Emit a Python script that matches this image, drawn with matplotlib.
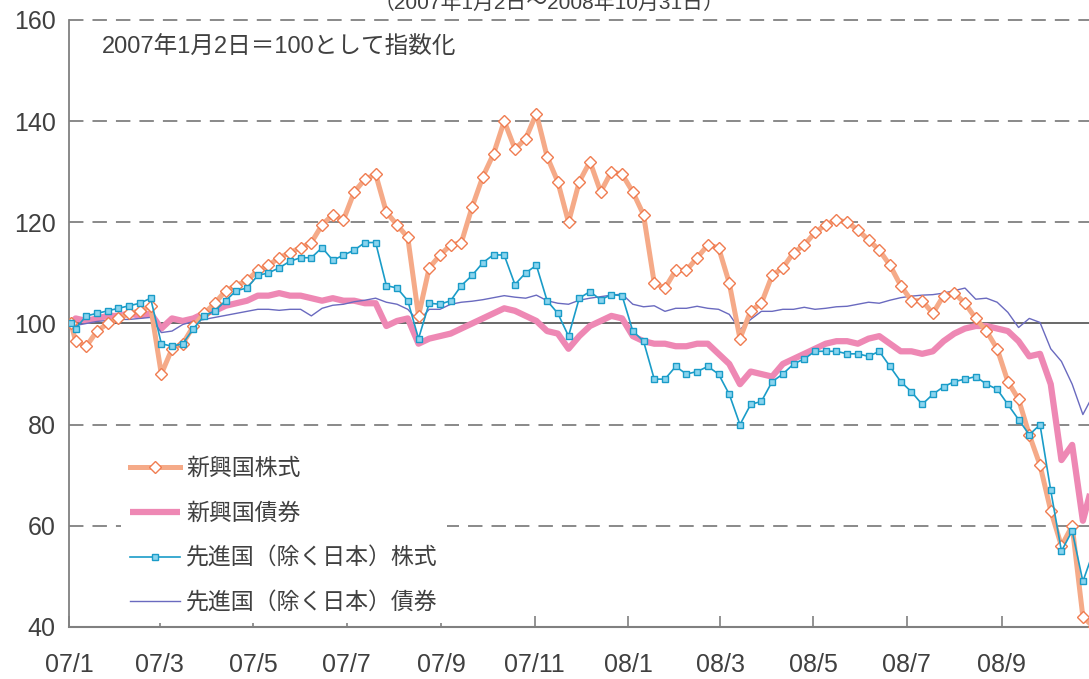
import numpy as np
import pandas as pd
import matplotlib
matplotlib.use('Agg')
import matplotlib.pyplot as plt
import matplotlib.dates as mdates

plt.rcParams['font.family'] = ['Liberation Sans', 'Noto Sans CJK JP']

# 2007/1/2 and then weekly (Fridays) up to 2008/10/31
dates = [pd.Timestamp('2007-01-02')] + list(pd.date_range('2007-01-05', periods=96, freq='7D'))

# 新興国株式
em_eq = [100,
         96.5, 95.5, 98.5, 100, 101, 102, 102.5, 103.4, 90, 95,
         96, 99.5, 102, 104, 106.5, 107.5, 108.5, 110.5, 111.5, 113,
         114, 115, 116, 119.5, 121.5, 120.5, 126, 128.5, 129.5, 122,
         119.5, 117, 101.5, 111, 113.5, 115.5, 116, 123, 129, 133.5,
         140, 134.5, 136.5, 141.5, 133, 128, 120, 128, 132, 126,
         130, 129.5, 126, 121.5, 108, 107, 110.5, 110.5, 113, 115.5,
         115, 108, 97, 102.5, 104, 109.5, 111, 114, 115.5, 118,
         119.5, 120.5, 120, 118.5, 116.5, 114.5, 111.5, 107.5, 104.5, 104.5,
         102, 105.5, 106, 104, 101, 98.5, 95, 88.5, 85, 78,
         72, 63, 56, 60, 42, 40]

# 新興国債券
em_bd = [100,
         101, 100.5, 101, 101.5, 101.5, 102, 101.5, 102, 99, 101,
         100.5, 101, 102, 102.5, 103.5, 104, 104.5, 105.5, 105.5, 106,
         105.5, 105.5, 105, 104.5, 105, 104.5, 104.5, 104, 104, 99.5,
         100.5, 101, 96, 97, 97.5, 98, 99, 100, 101, 102,
         103, 102.5, 101.5, 100.5, 98.5, 98, 95, 97.5, 99.5, 100.5,
         101.5, 101, 97.5, 96.5, 96, 96, 95.5, 95.5, 96, 96,
         94, 92, 88, 90.5, 90, 89.5, 92, 93, 94, 95,
         96, 96.5, 96.5, 96, 97, 97.5, 96, 94.5, 94.5, 94,
         94.5, 96.5, 98, 99, 99.5, 99.5, 99, 98.5, 96.5, 93.5,
         94, 88, 73, 76, 61, 69]

# 先進国（除く日本）株式
dm_eq = [100,
         99, 101.5, 102, 102.5, 103, 103.5, 104, 105, 96, 95.5,
         96, 99, 101.5, 102.5, 104.5, 106.5, 107, 109.5, 110, 111,
         112.3, 113, 113, 115, 112.5, 113.5, 114.5, 116, 116, 107.5,
         107, 104.5, 97, 104, 103.8, 104.5, 107.5, 109.5, 112, 113.6,
         113.5, 107.7, 110, 111.5, 104.5, 102, 97.5, 105, 106.3, 104.7,
         105.7, 105.5, 98.5, 96.5, 89, 89, 91.5, 90, 90.5, 91.5,
         90, 86, 80, 84, 84.6, 88.5, 90, 92, 93, 94.5,
         94.5, 94.5, 94, 94, 93.5, 94.5, 91.5, 88.5, 86.5, 84,
         86, 87.5, 88.5, 89, 89.5, 88, 87, 84, 81, 78,
         80, 67, 55, 59, 49, 55]

# 先進国（除く日本）債券
dm_bd = [100,
         99.6, 100, 100.4, 100.6, 100.8, 100.8, 101, 101.2, 98.2, 98.5,
         99.8, 100.4, 100.8, 101.2, 101.6, 102, 102.4, 102.8, 102.8, 102.6,
         102.8, 102.8, 101.5, 103, 103.6, 103.8, 104.3, 104.6, 105, 104.2,
         103.8, 102.8, 100.4, 102.8, 102.8, 103.8, 104.2, 104.4, 104.7, 105.1,
         105.5, 105.2, 105, 105.6, 104.5, 104, 103.8, 104.6, 105, 105.3,
         105.6, 105.8, 103.8, 103.3, 103.5, 102.4, 103, 103, 103.4, 103,
         102.8, 101.8, 98.8, 100.8, 102.4, 102.4, 102.8, 102.8, 103.2, 102.8,
         103, 103.3, 103.4, 103.8, 104.2, 104, 104.6, 105.1, 105.4, 105.6,
         105.7, 106, 106.5, 107, 104.8, 105, 104.2, 102.2, 99.2, 101,
         100.2, 95, 92.5, 88, 82, 86]

tick_dates = pd.date_range('2007-01-01', '2008-09-01', freq='2MS')
tick_labels = ['07/1', '07/3', '07/5', '07/7', '07/9', '07/11',
               '08/1', '08/3', '08/5', '08/7', '08/9']

fig = plt.figure(figsize=(10.89, 6.79), dpi=100)
ax = fig.add_axes([0.0638, 0.0766, 0.9362, 0.894])

txt = '#404040'

ax.plot(dates, em_bd, color='#EE88B4', lw=4.5, solid_capstyle='butt',
        label='新興国債券', zorder=3)
ax.plot(dates, dm_bd, color='#6A6ABF', lw=1.0, label='先進国（除く日本）債券', zorder=4)
ax.plot(dates, em_eq, color='#F5AA88', lw=3.6, marker='D', markersize=6.3,
        markerfacecolor='white', markeredgecolor='#F07C50', markeredgewidth=1.0,
        label='新興国株式', zorder=5)
ax.plot(dates, dm_eq, color='#1A9CC8', lw=1.2, marker='s', markersize=5,
        markerfacecolor='#8AD4EE', markeredgecolor='#1A9CC8', markeredgewidth=1.0,
        label='先進国（除く日本）株式', zorder=6)

ax.set_ylim(40, 160)
ax.set_yticks([40, 60, 80, 100, 120, 140, 160])
ax.set_xlim(pd.Timestamp('2007-01-01'), pd.Timestamp('2007-01-01') + pd.Timedelta(days=666))
ax.set_xticks(tick_dates)
ax.set_xticklabels(tick_labels)

for v in [60, 80, 120, 140, 160]:
    ax.axhline(v, color='#808080', lw=1.3, dashes=(8, 5), zorder=1, clip_on=False)
ax.axhline(100, color='#404040', lw=1.1, zorder=2)

for s in ['top', 'right']:
    ax.spines[s].set_visible(False)
ax.spines['left'].set_color('#808080')
ax.spines['bottom'].set_color('#808080')
ax.spines['left'].set_linewidth(1.3)
ax.spines['bottom'].set_linewidth(1.5)

ax.tick_params(axis='y', length=0, pad=10, labelsize=18, labelcolor=txt)
ax.tick_params(axis='x', direction='in', length=8, width=1.2, color='#808080',
               pad=19, labelsize=18, labelcolor=txt)

ax.text(0.032, 0.954, '2007年1月2日＝100として指数化', transform=ax.transAxes,
        fontsize=17, color=txt, va='center', ha='left')

fig.text(0.504, 1 - 9 / 679, '（2007年1月2日～2008年10月31日）', fontsize=15,
         color=txt, ha='center', va='baseline')

h, l = ax.get_legend_handles_labels()
order = [2, 0, 3, 1]
leg = ax.legend([h[i] for i in order], [l[i] for i in order],
                loc='upper left', bbox_to_anchor=(0.039, 0.314), fontsize=16.5,
                frameon=True, facecolor='white', edgecolor='none', framealpha=1,
                handlelength=2.2, handletextpad=0.25, labelspacing=0.95,
                borderpad=0.4, labelcolor=txt)
leg.set_zorder(10)

fig.savefig('out.png', dpi=100)
